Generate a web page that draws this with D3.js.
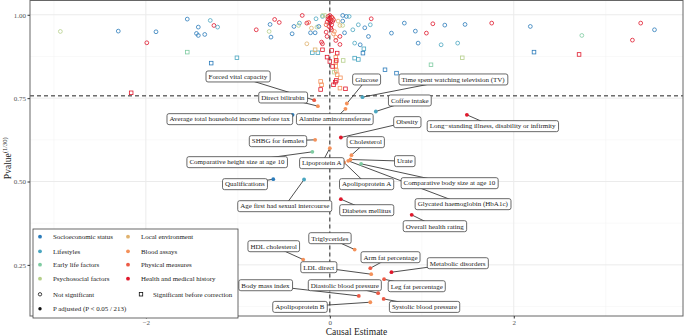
<!DOCTYPE html>
<html>
<head>
<meta charset="utf-8">
<script src="https://cdn.jsdelivr.net/npm/d3@7"></script>
<style>
  body { margin: 0; background: #fff; }
  svg { font-family: "Liberation Serif", "Times New Roman", serif; }
</style>
</head>
<body>
<div id="chart"></div>
<script>
// categories + colours
const categories = ["Socioeconomic status", "Lifestyles", "Early life factors", "Psychosocial factors",
  "Local environment", "Blood assays", "Physical measures", "Health and medical history"];
const catKeys = ["socio", "life", "early", "psych", "local", "blood", "phys", "health"];
const catColors = ["#2b7bba", "#4aa6c0", "#7ecba1", "#b5cf8a", "#e0b26e", "#f4915a", "#ec5a45", "#e0182c"];

const xTicks = [-2, 0, 2];
const yTicks = [0.25, 0.50, 0.75, 1.00];
const threshold = Math.pow(0.05 / 213, 1 / 30);

// not significant: [category, estimate, pvalue^(1/30)]
const notSig = [
  ["psych", -2.93, 0.950], ["socio", -2.30, 0.951], ["socio", -1.89, 0.949], ["health", -1.99, 0.916],
  ["socio", -1.55, 0.987], ["socio", -1.43, 0.963], ["socio", -1.45, 0.944], ["socio", -1.43, 0.938],
  ["socio", -1.36, 0.941], ["life", -1.30, 0.983], ["health", -1.26, 0.968], ["life", -1.22, 0.963],
  ["health", -0.80, 0.955], ["socio", -0.65, 0.971], ["socio", -0.64, 0.933], ["health", -0.60, 0.986],
  ["health", -0.55, 0.977], ["psych", -0.66, 0.950], ["socio", -0.41, 0.943], ["socio", -0.39, 0.965],
  ["psych", -0.34, 0.968], ["life", -0.33, 0.975], ["health", -0.30, 0.998], ["health", -0.25, 0.975],
  ["phys", -0.23, 0.977], ["life", -0.15, 0.988], ["socio", -0.21, 0.946], ["socio", -0.16, 0.946],
  ["psych", -0.14, 0.963], ["socio", -0.12, 0.965], ["life", -0.08, 0.995], ["local", -0.25, 0.913],
  ["health", -0.04, 0.948], ["health", -0.03, 0.935], ["health", -0.09, 0.918], ["health", -0.08, 0.913],
  ["blood", 0.04, 0.943], ["blood", 0.065, 0.933], ["health", 0.065, 0.923], ["health", 0.11, 0.935],
  ["health", 0.11, 0.911], ["socio", 0.14, 0.998], ["socio", 0.18, 0.995], ["life", 0.21, 0.995],
  ["socio", 0.14, 0.981], ["socio", 0.16, 0.946], ["life", 0.25, 0.955], ["psych", 0.14, 0.968],
  ["life", 0.31, 0.970], ["socio", 0.38, 0.961], ["health", 0.45, 0.988], ["life", 0.44, 0.970],
  ["socio", 0.42, 0.935], ["life", 0.27, 0.915], ["socio", 0.33, 0.910], ["socio", 0.67, 0.945],
  ["socio", 0.81, 0.975], ["socio", 0.93, 0.951], ["health", 1.05, 0.945], ["health", 1.12, 0.973],
  ["socio", 1.25, 0.969], ["socio", 0.96, 0.915], ["life", 1.21, 0.910], ["life", 1.39, 0.915],
  ["socio", 1.47, 0.971], ["health", 1.76, 0.975], ["socio", 2.18, 0.965], ["early", 2.74, 0.938],
  ["health", 3.38, 0.975], ["socio", 3.53, 0.955], ["health", 3.29, 0.924],
  ["health", 0.00, 0.998], ["health", -0.02, 0.995], ["health", 0.02, 0.993], ["health", 0.00, 0.990],
  ["health", -0.01, 0.985], ["health", 0.01, 0.982], ["health", 0.03, 0.980], ["health", -0.03, 0.978],
  ["health", 0.00, 0.975], ["health", 0.02, 0.970], ["health", -0.01, 0.965], ["health", 0.01, 0.960],
  ["health", 0.02, 0.955], ["health", -0.02, 0.988], ["health", 0.04, 0.985], ["phys", 0.03, 0.990],
  ["phys", -0.04, 0.970], ["psych", -0.08, 0.998], ["psych", -0.05, 0.998], ["local", 0.09, 0.981],
  ["local", 0.11, 0.968], ["blood", 0.05, 0.950], ["local", -0.20, 0.960]
];

// significant before correction
const sigBefore = [
  ["early", -1.55, 0.888], ["socio", -1.29, 0.855], ["life", -1.01, 0.871], ["health", -2.16, 0.766],
  ["health", -0.08, 0.895], ["health", -0.03, 0.873], ["life", -0.19, 0.886], ["life", -0.13, 0.886],
  ["local", -0.16, 0.895], ["health", 0.08, 0.885], ["blood", 0.065, 0.873], ["blood", 0.065, 0.858],
  ["blood", 0.065, 0.846], ["blood", 0.07, 0.833], ["psych", 0.05, 0.828], ["blood", 0.115, 0.811],
  ["health", 0.07, 0.803], ["health", 0.06, 0.798], ["blood", -0.10, 0.800], ["blood", -0.09, 0.790],
  ["health", -0.10, 0.776], ["blood", 0.11, 0.780], ["health", 0.17, 0.778], ["life", 0.37, 0.898],
  ["socio", 0.36, 0.885], ["life", 0.27, 0.870], ["life", 0.31, 0.866], ["psych", 0.145, 0.863],
  ["socio", 0.60, 0.835], ["socio", 0.725, 0.825], ["early", 1.10, 0.850], ["psych", 1.44, 0.871],
  ["socio", 2.22, 0.888], ["health", 2.71, 0.881], ["health", 0.02, 0.893], ["health", 0.07, 0.863],
  ["health", 0.00, 0.860], ["health", 0.03, 0.845], ["blood", 0.08, 0.820], ["health", 0.04, 0.790]
];

// significant after correction: [name, category, estimate, pvalue^(1/30)]
const sigAdj = [
  ["Forced vital capacity", "phys", -0.17, 0.744], ["Direct bilirubin", "blood", -0.13, 0.726],
  ["Glucose", "blood", 0.185, 0.734], ["Time spent watching television (TV)", "life", 0.355, 0.753],
  ["Coffee intake", "life", 0.50, 0.710], ["Alanine aminotransferase", "blood", 0.17, 0.718],
  ["Average total household income before tax", "socio", -0.405, 0.700], ["Obesity", "health", 0.12, 0.632],
  ["Long\u2212standing illness, disability or infirmity", "health", 1.49, 0.700],
  ["SHBG for females", "blood", -0.16, 0.625], ["Cholesterol", "blood", 0.235, 0.579],
  ["Comparative height size at age 10", "early", -0.19, 0.589], ["Lipoprotein A", "blood", 0.00, 0.600],
  ["Urate", "blood", 0.225, 0.566], ["Comparative body size at age 10", "early", 0.34, 0.553],
  ["Apolipoprotein A", "blood", 0.155, 0.557], ["Glycated haemoglobin (HbA1c)", "blood", 0.20, 0.562],
  ["Qualifications", "socio", -0.615, 0.507], ["Age first had sexual intercourse", "life", -0.28, 0.506],
  ["Diabetes mellitus", "health", 0.12, 0.447], ["Overall health rating", "health", 0.89, 0.400],
  ["Triglycerides", "blood", 0.27, 0.296], ["HDL cholesterol", "blood", -0.29, 0.266],
  ["Arm fat percentage", "phys", 0.44, 0.240], ["Metabolic disorders", "health", 0.67, 0.228],
  ["LDL direct", "blood", 0.45, 0.222], ["Leg fat percentage", "phys", 0.59, 0.207],
  ["Body mass index", "phys", 0.315, 0.157], ["Diastolic blood pressure", "phys", 0.525, 0.165],
  ["Apolipoprotein B", "blood", 0.44, 0.138], ["Systolic blood pressure", "phys", 0.585, 0.148]
];

// where the repelled labels ended up (data units), same order as sigAdj
const labelPos = [
  [-1.00, 0.815], [-0.51, 0.752], [0.40, 0.806], [1.34, 0.806], [0.87, 0.743], [0.054, 0.687],
  [-1.09, 0.687], [0.84, 0.678], [1.77, 0.666], [-0.565, 0.621], [0.39, 0.618], [-1.01, 0.558],
  [-0.087, 0.555], [0.815, 0.561], [1.30, 0.495], [0.40, 0.492], [1.445, 0.432], [-0.924, 0.492],
  [-0.49, 0.426], [0.40, 0.414], [1.14, 0.366], [0.00, 0.330], [-0.61, 0.306], [0.66, 0.273],
  [1.39, 0.255], [-0.12, 0.243], [0.945, 0.186], [-0.70, 0.189], [0.163, 0.189], [-0.326, 0.124],
  [1.03, 0.124]
];

const width = 685, height = 336;
const color = d3.scaleOrdinal().domain(catKeys).range(catColors);

const x = d3.scaleLinear().domain([-3.26, 3.84]).range([30, 683]);
const y = d3.scaleLinear().domain([0.0967, 1.0428]).range([316, 0.5]);

const svg = d3.select("#chart").append("svg")
  .attr("width", width)
  .attr("height", height);

// gridlines (major + minor like theme_bw)
const grid = svg.append("g");
[-3, -1, 1, 3].forEach(v => grid.append("line")
  .attr("x1", x(v)).attr("x2", x(v)).attr("y1", y.range()[1]).attr("y2", y.range()[0])
  .attr("stroke", "#f2f2f2").attr("stroke-width", 0.5));
[0.125, 0.375, 0.625, 0.875].forEach(v => grid.append("line")
  .attr("x1", x.range()[0]).attr("x2", x.range()[1]).attr("y1", y(v)).attr("y2", y(v))
  .attr("stroke", "#f2f2f2").attr("stroke-width", 0.5));
xTicks.forEach(v => grid.append("line")
  .attr("x1", x(v)).attr("x2", x(v)).attr("y1", y.range()[1]).attr("y2", y.range()[0])
  .attr("stroke", "#ebebeb").attr("stroke-width", 1));
yTicks.forEach(v => grid.append("line")
  .attr("x1", x.range()[0]).attr("x2", x.range()[1]).attr("y1", y(v)).attr("y2", y(v))
  .attr("stroke", "#ebebeb").attr("stroke-width", 1));

// reference lines
svg.append("line")
  .attr("x1", x(0)).attr("x2", x(0)).attr("y1", y.range()[1]).attr("y2", y.range()[0])
  .attr("stroke", "#222").attr("stroke-width", 1).attr("stroke-dasharray", "4,3");
svg.append("line")
  .attr("x1", x.range()[0]).attr("x2", x.range()[1]).attr("y1", y(threshold)).attr("y2", y(threshold))
  .attr("stroke", "#222").attr("stroke-width", 1).attr("stroke-dasharray", "4,3");

// points
svg.append("g").selectAll("circle")
  .data(notSig)
  .join("circle")
  .attr("cx", d => x(d[1]))
  .attr("cy", d => y(d[2]))
  .attr("r", 1.9)
  .attr("fill", "none")
  .attr("stroke", d => color(d[0]))
  .attr("stroke-width", 0.8);

svg.append("g").selectAll("rect")
  .data(sigBefore)
  .join("rect")
  .attr("x", d => x(d[1]) - 1.8)
  .attr("y", d => y(d[2]) - 1.8)
  .attr("width", 3.6)
  .attr("height", 3.6)
  .attr("fill", "none")
  .attr("stroke", d => color(d[0]))
  .attr("stroke-width", 0.8);

// label segments
const labels = sigAdj.map((d, i) => ({ name: d[0], cat: d[1], ex: d[2], ey: d[3], lx: labelPos[i][0], ly: labelPos[i][1] }));

svg.append("g").selectAll("line")
  .data(labels)
  .join("line")
  .attr("x1", d => x(d.ex)).attr("y1", d => y(d.ey))
  .attr("x2", d => x(d.lx)).attr("y2", d => y(d.ly))
  .attr("stroke", "#222").attr("stroke-width", 0.8);

svg.append("g").selectAll("circle")
  .data(labels)
  .join("circle")
  .attr("cx", d => x(d.ex))
  .attr("cy", d => y(d.ey))
  .attr("r", 1.9)
  .attr("fill", d => color(d.cat));

// label boxes
const lab = svg.append("g").selectAll("g")
  .data(labels)
  .join("g")
  .attr("transform", d => `translate(${x(d.lx)},${y(d.ly)})`);

lab.append("text")
  .attr("text-anchor", "middle")
  .attr("dy", "0.33em")
  .attr("font-size", 7)
  .attr("fill", "#222")
  .text(d => d.name);

lab.each(function () {
  const g = d3.select(this);
  const bb = g.select("text").node().getBBox();
  g.insert("rect", "text")
    .attr("x", bb.x - 2.5).attr("y", -5.5)
    .attr("width", bb.width + 5).attr("height", 11)
    .attr("rx", 2).attr("ry", 2)
    .attr("fill", "#fff").attr("stroke", "#444").attr("stroke-width", 0.8);
});

// panel border
svg.append("rect")
  .attr("x", x.range()[0]).attr("y", y.range()[1])
  .attr("width", x.range()[1] - x.range()[0])
  .attr("height", y.range()[0] - y.range()[1])
  .attr("fill", "none").attr("stroke", "#666").attr("stroke-width", 1);

// axes
const xAxis = svg.append("g")
  .attr("transform", `translate(0,${y.range()[0]})`)
  .call(d3.axisBottom(x).tickValues(xTicks).tickSize(2.5).tickPadding(1.5).tickFormat(d3.format("")));
const yAxis = svg.append("g")
  .attr("transform", `translate(${x.range()[0]},0)`)
  .call(d3.axisLeft(y).tickValues(yTicks).tickSize(2.5).tickPadding(1.5).tickFormat(d3.format(".2f")));
[xAxis, yAxis].forEach(a => {
  a.select(".domain").remove();
  a.selectAll(".tick line").attr("stroke", "#333");
  a.selectAll("text").attr("font-family", "Liberation Serif, serif").attr("font-size", 7).attr("fill", "#555");
});
xAxis.selectAll("text").text(d => d < 0 ? "\u2212" + Math.abs(d) : d);

// axis titles
svg.append("text")
  .attr("x", (x.range()[0] + x.range()[1]) / 2)
  .attr("y", 335)
  .attr("text-anchor", "middle")
  .attr("font-size", 9.5)
  .attr("fill", "#222")
  .text("Causal Estimate");

const yt = svg.append("text")
  .attr("transform", `translate(11,${(y.range()[0] + y.range()[1]) / 2}) rotate(-90)`)
  .attr("text-anchor", "middle")
  .attr("font-size", 9.5)
  .attr("fill", "#222");
yt.append("tspan").text("Pvalue");
yt.append("tspan").attr("font-size", 6.5).attr("dy", -4).text("(1/30)");

// legend
const leg = svg.append("g").attr("transform", "translate(33,229)");
leg.append("rect")
  .attr("width", 205).attr("height", 89)
  .attr("fill", "#fff").attr("stroke", "#444").attr("stroke-width", 0.8);

const legRows = [7.7, 22.3, 35.7, 49.7];
categories.forEach((c, i) => {
  const col = Math.floor(i / 4), row = i % 4;
  const g = leg.append("g").attr("transform", `translate(${col ? 95 : 7},${legRows[row]})`);
  g.append("circle").attr("r", 1.9).attr("fill", catColors[i]);
  g.append("text").attr("x", 13).attr("dy", "0.33em").attr("font-size", 6.9).attr("fill", "#222").text(c);
});

const shapes = [
  { label: "Not significant", tx: 7, ty: 65.3, kind: "open" },
  { label: "Significant before correction", tx: 108, ty: 65.3, kind: "square" },
  { label: "P adjusted (P < 0.05 / 213)", tx: 7, ty: 79.7, kind: "filled" }
];
shapes.forEach(s => {
  const g = leg.append("g").attr("transform", `translate(${s.tx},${s.ty})`);
  if (s.kind === "open") g.append("circle").attr("r", 1.7).attr("fill", "none").attr("stroke", "#111").attr("stroke-width", 0.8);
  else if (s.kind === "square") g.append("rect").attr("x", -1.7).attr("y", -1.7).attr("width", 3.4).attr("height", 3.4).attr("fill", "none").attr("stroke", "#111").attr("stroke-width", 0.8);
  else g.append("circle").attr("r", 1.7).attr("fill", "#111");
  g.append("text").attr("x", s.kind === "square" ? 12 : 13).attr("dy", "0.33em").attr("font-size", 6.9).attr("fill", "#222").text(s.label);
});
</script>
</body>
</html>
